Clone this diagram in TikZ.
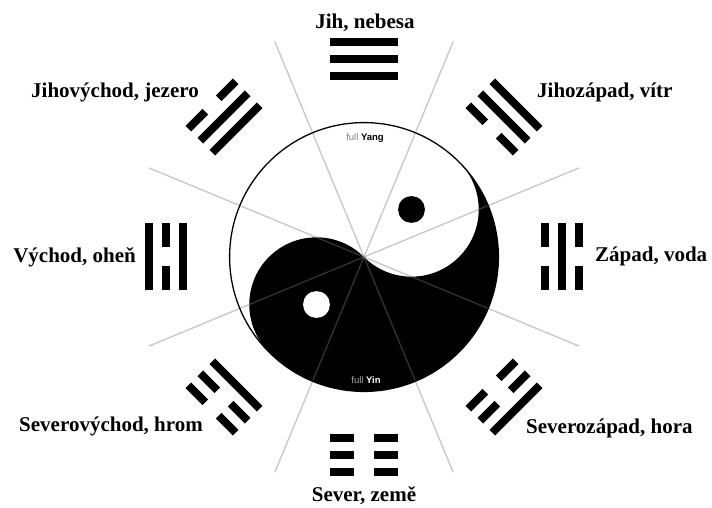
\documentclass[tikz,border=0pt]{standalone}
\usepackage{fontspec}
\setmainfont{Liberation Serif}
\setsansfont{Liberation Sans}
\definecolor{rayGray}{HTML}{7A7A7A}

\tikzset{
  label text/.style={font=\bfseries\fontsize{21}{24}\selectfont, inner sep=0pt},
  small text/.style={font=\sffamily\fontsize{9.5}{11}\selectfont, inner sep=0pt},
  bar/.style={line width=8pt},
  ray/.style={line width=1.4pt, rayGray, opacity=0.4},
}

% one line of a trigram: #1 distance from centre, #2 = 1 solid, 0 broken
\newcommand{\triline}[2]{%
  \ifnum#2=1
    \draw[bar] (-33.5,#1) -- (33.5,#1);
  \else
    \draw[bar] (-33.5,#1) -- (-9.5,#1) (9.5,#1) -- (33.5,#1);
  \fi}

\begin{document}
\begin{tikzpicture}[x=1pt, y=1pt]
            \path[use as bounding box, fill=white] (-364,-251) rectangle (348,257);
            \coordinate (c) at (0,0);
            % yin-yang
            \begin{scope}[rotate=45]
                \fill[white] (c) circle (134.4);
                \fill (134.4,0) arc[start angle=0, end angle=-180, radius=134.4]
                    arc[start angle=180, end angle=0, radius=67.2]
                    arc[start angle=180, end angle=360, radius=67.2] -- cycle;
                \fill (67.2,0) circle (13.4);
                \fill[white] (-67.2,0) circle (13.4);
            \end{scope}
            % sector rays
            \foreach \k in {0,...,7}
                \draw[ray] (c) -- ({22.5+45*\k}:233);
            \draw[line width=1.3pt] (c) circle (134.4);
            \node[small text] (yang) at (1,119) {\textcolor{gray}{full} \textbf{Yang}};
            \node[small text, text=white] (yin) at (2,-123) {\textcolor{black!35}{full} \textbf{Yin}};
            % trigrams: angle / outer / middle / inner
            \foreach \tang/\tA/\tB/\tC in {90/1/1/1, 135/0/1/1, 180/1/0/1, 225/0/0/1,
                                          270/0/0/0, 315/1/0/0, 0/0/1/0, 45/1/1/0} {
                \begin{scope}[rotate=\tang-90]
                    \triline{215}{\tA}
                    \triline{198}{\tB}
                    \triline{181}{\tC}
                \end{scope}
            }
            \node[label text, anchor=base] (jih) at (1,228) {Jih, nebesa};
            \node[label text, anchor=base east] (jihovychod) at (-165,159) {Jihovýchod, jezero};
            \node[label text, anchor=base east] (vychod) at (-228,-6) {Východ, oheň};
            \node[label text, anchor=base east] (severovychod) at (-161,-174) {Severovýchod, hrom};
            \node[label text, anchor=base] (sever) at (0,-244) {Sever, země};
            \node[label text, anchor=base west] (severozapad) at (162,-176) {Severozápad, hora};
            \node[label text, anchor=base west] (zapad) at (231,-5) {Západ, voda};
            \node[label text, anchor=base west] (jihozapad) at (173,159) {Jihozápad, vítr};
        \end{tikzpicture}
\end{document}
